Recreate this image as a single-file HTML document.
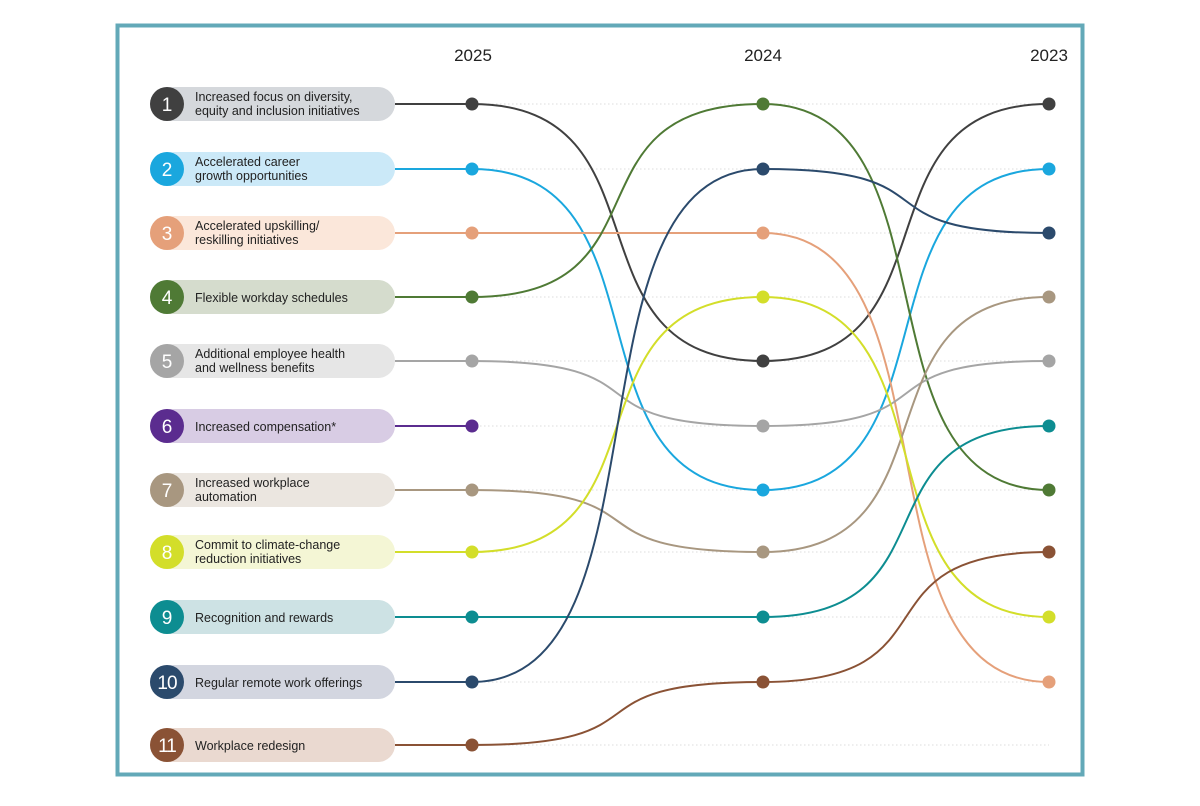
<!DOCTYPE html>
<html><head><meta charset="utf-8"><style>
body{margin:0;background:#fff;width:1200px;height:801px;overflow:hidden;font-family:"Liberation Sans",sans-serif}
</style></head><body>
<svg width="1200" height="801" xmlns="http://www.w3.org/2000/svg" font-family="Liberation Sans, sans-serif">
<rect x="117.5" y="25.5" width="965" height="749" fill="none" stroke="#63a9b8" stroke-width="4"/>
<g font-size="17" fill="#222" text-anchor="middle">
<text x="473" y="61">2025</text><text x="763" y="61">2024</text><text x="1049" y="61">2023</text>
</g>
<g stroke="#ddd" stroke-dasharray="1.5 2.5" stroke-width="1">
<line x1="472" y1="104" x2="1049" y2="104"/><line x1="472" y1="169" x2="1049" y2="169"/>
<line x1="472" y1="233" x2="1049" y2="233"/><line x1="472" y1="297" x2="1049" y2="297"/>
<line x1="472" y1="361" x2="1049" y2="361"/><line x1="472" y1="426" x2="1049" y2="426"/>
<line x1="472" y1="490" x2="1049" y2="490"/><line x1="472" y1="552" x2="1049" y2="552"/>
<line x1="472" y1="617" x2="1049" y2="617"/><line x1="472" y1="682" x2="1049" y2="682"/>
<line x1="472" y1="745" x2="1049" y2="745"/>
</g>
<g fill="none" stroke-width="2">
<path stroke="#404040" d="M395 104H472C676 104 559 361 763 361C963 361 849 104 1049 104"/>
<path stroke="#1aa7de" d="M395 169H472C676 169 559 490 763 490C963 490 849 169 1049 169"/>
<path stroke="#e5a07a" d="M395 233H763C963 233 849 682 1049 682"/>
<path stroke="#4f7a35" d="M395 297H472C676 297 559 104 763 104C963 104 849 490 1049 490"/>
<path stroke="#a5a5a5" d="M395 361H472C676 361 559 426 763 426C963 426 849 361 1049 361"/>
<path stroke="#5b2c8f" d="M395 426H472"/>
<path stroke="#a89780" d="M395 490H472C676 490 559 552 763 552C963 552 849 297 1049 297"/>
<path stroke="#d3de2a" d="M395 552H472C676 552 559 297 763 297C963 297 849 617 1049 617"/>
<path stroke="#0d8d91" d="M395 617H763C963 617 849 426 1049 426"/>
<path stroke="#2b4a6c" d="M395 682H472C676 682 559 169 763 169C963 169 849 233 1049 233"/>
<path stroke="#8a5235" d="M395 745H472C676 745 559 682 763 682C963 682 849 552 1049 552"/>
</g>
<g>
<g fill="#404040"><circle cx="472" cy="104" r="6.5"/><circle cx="763" cy="361" r="6.5"/><circle cx="1049" cy="104" r="6.5"/></g>
<g fill="#1aa7de"><circle cx="472" cy="169" r="6.5"/><circle cx="763" cy="490" r="6.5"/><circle cx="1049" cy="169" r="6.5"/></g>
<g fill="#e5a07a"><circle cx="472" cy="233" r="6.5"/><circle cx="763" cy="233" r="6.5"/><circle cx="1049" cy="682" r="6.5"/></g>
<g fill="#4f7a35"><circle cx="472" cy="297" r="6.5"/><circle cx="763" cy="104" r="6.5"/><circle cx="1049" cy="490" r="6.5"/></g>
<g fill="#a5a5a5"><circle cx="472" cy="361" r="6.5"/><circle cx="763" cy="426" r="6.5"/><circle cx="1049" cy="361" r="6.5"/></g>
<g fill="#5b2c8f"><circle cx="472" cy="426" r="6.5"/></g>
<g fill="#a89780"><circle cx="472" cy="490" r="6.5"/><circle cx="763" cy="552" r="6.5"/><circle cx="1049" cy="297" r="6.5"/></g>
<g fill="#d3de2a"><circle cx="472" cy="552" r="6.5"/><circle cx="763" cy="297" r="6.5"/><circle cx="1049" cy="617" r="6.5"/></g>
<g fill="#0d8d91"><circle cx="472" cy="617" r="6.5"/><circle cx="763" cy="617" r="6.5"/><circle cx="1049" cy="426" r="6.5"/></g>
<g fill="#2b4a6c"><circle cx="472" cy="682" r="6.5"/><circle cx="763" cy="169" r="6.5"/><circle cx="1049" cy="233" r="6.5"/></g>
<g fill="#8a5235"><circle cx="472" cy="745" r="6.5"/><circle cx="763" cy="682" r="6.5"/><circle cx="1049" cy="552" r="6.5"/></g>
</g>
<g font-size="12.5" fill="#222">
<rect x="150" y="87" width="245" height="34" rx="17" fill="#d5d8dc"/><circle cx="167" cy="104" r="17" fill="#404040"/>
<text x="195" y="101">Increased focus on diversity,</text><text x="195" y="115">equity and inclusion initiatives</text>
<rect x="150" y="152" width="245" height="34" rx="17" fill="#cbe9f8"/><circle cx="167" cy="169" r="17" fill="#1aa7de"/>
<text x="195" y="166">Accelerated career</text><text x="195" y="180">growth opportunities</text>
<rect x="150" y="216" width="245" height="34" rx="17" fill="#fbe7da"/><circle cx="167" cy="233" r="17" fill="#e5a07a"/>
<text x="195" y="230">Accelerated upskilling/</text><text x="195" y="244">reskilling initiatives</text>
<rect x="150" y="280" width="245" height="34" rx="17" fill="#d5dccd"/><circle cx="167" cy="297" r="17" fill="#4f7a35"/>
<text x="195" y="302">Flexible workday schedules</text>
<rect x="150" y="344" width="245" height="34" rx="17" fill="#e6e6e6"/><circle cx="167" cy="361" r="17" fill="#a5a5a5"/>
<text x="195" y="358">Additional employee health</text><text x="195" y="372">and wellness benefits</text>
<rect x="150" y="409" width="245" height="34" rx="17" fill="#d8cce4"/><circle cx="167" cy="426" r="17" fill="#5b2c8f"/>
<text x="195" y="431">Increased compensation*</text>
<rect x="150" y="473" width="245" height="34" rx="17" fill="#ebe6e0"/><circle cx="167" cy="490" r="17" fill="#a89780"/>
<text x="195" y="487">Increased workplace</text><text x="195" y="501">automation</text>
<rect x="150" y="535" width="245" height="34" rx="17" fill="#f4f6d5"/><circle cx="167" cy="552" r="17" fill="#d3de2a"/>
<text x="195" y="549">Commit to climate-change</text><text x="195" y="563">reduction initiatives</text>
<rect x="150" y="600" width="245" height="34" rx="17" fill="#cde2e4"/><circle cx="167" cy="617" r="17" fill="#0d8d91"/>
<text x="195" y="622">Recognition and rewards</text>
<rect x="150" y="665" width="245" height="34" rx="17" fill="#d3d6e0"/><circle cx="167" cy="682" r="17" fill="#2b4a6c"/>
<text x="195" y="687">Regular remote work offerings</text>
<rect x="150" y="728" width="245" height="34" rx="17" fill="#ead9d0"/><circle cx="167" cy="745" r="17" fill="#8a5235"/>
<text x="195" y="750">Workplace redesign</text>
</g>
<g font-size="19" fill="#fff" text-anchor="middle">
<text x="167" y="111">1</text><text x="167" y="176">2</text><text x="167" y="240">3</text><text x="167" y="304">4</text>
<text x="167" y="368">5</text><text x="167" y="433">6</text><text x="167" y="497">7</text><text x="167" y="559">8</text>
<text x="167" y="624">9</text><text x="167" y="689" letter-spacing="-1">10</text><text x="167" y="752" letter-spacing="-1">11</text>
</g>
</svg>
</body></html>
